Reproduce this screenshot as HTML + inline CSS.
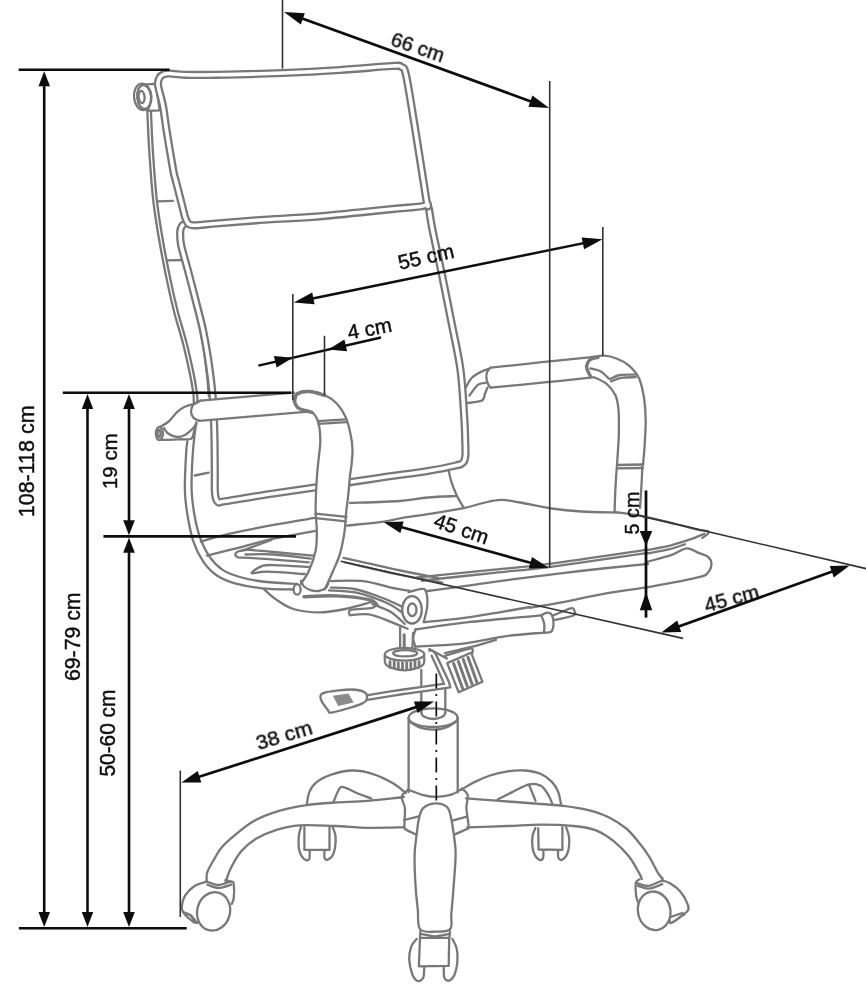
<!DOCTYPE html>
<html><head><meta charset="utf-8"><title>Chair dimensions</title>
<style>
html,body{margin:0;padding:0;background:#fff;}
body{width:866px;height:995px;overflow:hidden;}
svg{display:block;}
</style></head><body>
<svg width="866" height="995" viewBox="0 0 866 995">
<defs><filter id="soft" x="-20" y="-20" width="906" height="1035" filterUnits="userSpaceOnUse"><feGaussianBlur stdDeviation="0.55"/></filter><filter id="soft2" x="-20" y="-20" width="906" height="1035" filterUnits="userSpaceOnUse"><feGaussianBlur stdDeviation="0.4"/></filter></defs>
<rect width="866" height="995" fill="#fff"/>
<g id="chair" filter="url(#soft)" fill="none" stroke="#787878" stroke-width="2.3" stroke-linecap="round" stroke-linejoin="round">
<path d="M149.0,108.0 C149.3,115.0 150.0,134.7 151.0,150.0 C152.0,165.3 153.3,185.0 155.0,200.0 C156.7,215.0 158.7,226.7 161.0,240.0 C163.3,253.3 166.2,268.0 168.7,280.0 C171.2,292.0 173.4,301.7 176.0,312.0 C178.6,322.3 182.0,332.3 184.5,342.0 C187.0,351.7 189.2,361.7 191.0,370.0 C192.8,378.3 194.2,386.7 195.0,392.0 C195.8,397.3 195.5,400.3 195.6,402.0" stroke-width="5.9"/>
<path d="M149.0,108.0 C149.3,115.0 150.0,134.7 151.0,150.0 C152.0,165.3 153.3,185.0 155.0,200.0 C156.7,215.0 158.7,226.7 161.0,240.0 C163.3,253.3 166.2,268.0 168.7,280.0 C171.2,292.0 173.4,301.7 176.0,312.0 C178.6,322.3 182.0,332.3 184.5,342.0 C187.0,351.7 189.2,361.7 191.0,370.0 C192.8,378.3 194.2,386.7 195.0,392.0 C195.8,397.3 195.5,400.3 195.6,402.0" stroke="#fff" stroke-width="1.3"/>
<path d="M157.5,201.3 L173.0,200.8"/>
<path d="M167.9,260.3 L184.3,260.0"/>
<path d="M184.5,261.0 C185.4,265.0 187.9,276.0 190.0,285.0 C192.1,294.0 194.8,305.0 197.0,315.0 C199.2,325.0 201.3,335.0 203.0,345.0 C204.7,355.0 206.0,366.5 207.0,375.0 C208.0,383.5 208.5,392.5 208.8,396.0"/>
<path d="M145.8,84.4 L155.8,83.8 L159.7,110.4 L148.6,110.9Z" fill="#fff"/>
<ellipse cx="142.7" cy="96.9" rx="8.7" ry="13.3" transform="rotate(-5 142.7 96.9)" fill="#fff"/>
<ellipse cx="144.1" cy="97.0" rx="6.9" ry="11.9" transform="rotate(-5 144.1 97.0)"/>
<ellipse cx="141.6" cy="97.0" rx="3.0" ry="6.1" transform="rotate(-5 141.6 97.0)"/>
<path d="M187.0,222.5 C186.2,223.1 183.1,224.4 182.0,226.0 C180.9,227.6 180.3,228.8 180.2,232.0 C180.1,235.2 179.9,239.1 181.2,245.4 C182.5,251.7 185.4,260.9 187.8,270.0 C190.2,279.1 193.0,289.8 195.5,299.8 C198.0,309.8 200.9,320.0 203.0,330.0 C205.1,340.0 206.7,349.2 208.3,360.0 C209.9,370.8 211.5,382.8 212.5,394.5 C213.5,406.2 213.9,417.4 214.3,430.0 C214.7,442.6 214.7,459.5 214.8,470.0 C214.9,480.5 214.5,487.7 215.0,493.0 C215.5,498.3 216.1,500.4 217.8,501.8 C219.5,503.2 216.3,502.6 225.0,501.3 C233.7,500.0 254.2,496.4 270.0,494.0 C285.8,491.6 301.7,489.4 320.0,486.7 C338.3,484.0 362.1,480.3 380.0,477.7 C397.9,475.1 415.1,473.0 427.7,471.0 C440.3,469.0 449.5,467.1 455.4,465.6 C461.3,464.2 461.6,464.1 463.3,462.3 C465.0,460.5 465.1,458.7 465.4,455.0 C465.7,451.3 465.4,445.8 465.2,440.0 C465.0,434.2 465.2,431.7 464.4,420.0 C463.6,408.3 462.6,385.8 460.5,370.0 C458.4,354.2 455.1,340.8 452.0,325.0 C448.9,309.2 445.2,290.8 442.0,275.0 C438.8,259.2 434.7,241.0 432.5,230.0 C430.3,219.0 429.6,212.5 429.0,209.0" stroke-width="8.2" />
<path d="M187.0,222.5 C186.2,223.1 183.1,224.4 182.0,226.0 C180.9,227.6 180.3,228.8 180.2,232.0 C180.1,235.2 179.9,239.1 181.2,245.4 C182.5,251.7 185.4,260.9 187.8,270.0 C190.2,279.1 193.0,289.8 195.5,299.8 C198.0,309.8 200.9,320.0 203.0,330.0 C205.1,340.0 206.7,349.2 208.3,360.0 C209.9,370.8 211.5,382.8 212.5,394.5 C213.5,406.2 213.9,417.4 214.3,430.0 C214.7,442.6 214.7,459.5 214.8,470.0 C214.9,480.5 214.5,487.7 215.0,493.0 C215.5,498.3 216.1,500.4 217.8,501.8 C219.5,503.2 216.3,502.6 225.0,501.3 C233.7,500.0 254.2,496.4 270.0,494.0 C285.8,491.6 301.7,489.4 320.0,486.7 C338.3,484.0 362.1,480.3 380.0,477.7 C397.9,475.1 415.1,473.0 427.7,471.0 C440.3,469.0 449.5,467.1 455.4,465.6 C461.3,464.2 461.6,464.1 463.3,462.3 C465.0,460.5 465.1,458.7 465.4,455.0 C465.7,451.3 465.4,445.8 465.2,440.0 C465.0,434.2 465.2,431.7 464.4,420.0 C463.6,408.3 462.6,385.8 460.5,370.0 C458.4,354.2 455.1,340.8 452.0,325.0 C448.9,309.2 445.2,290.8 442.0,275.0 C438.8,259.2 434.7,241.0 432.5,230.0 C430.3,219.0 429.6,212.5 429.0,209.0" stroke="#fff" stroke-width="3.6"/>
<path d="M158.6,88.0 C157.8,84.1 157.8,84.8 158.0,83.0 C158.2,81.2 158.7,79.0 159.6,77.5 C160.5,76.0 161.8,75.0 163.5,74.3 C165.2,73.6 166.4,73.4 170.0,73.5 C173.6,73.6 177.3,74.6 185.0,74.8 C192.7,75.0 199.7,75.1 216.0,74.8 C232.3,74.5 262.3,73.8 283.0,73.0 C303.7,72.2 321.8,71.2 340.0,70.0 C358.2,68.8 381.8,66.5 392.0,66.0 C402.2,65.5 399.2,65.5 401.5,67.0 C403.8,68.5 403.8,65.4 406.0,75.0 C408.2,84.6 411.1,104.0 414.5,124.7 C417.9,145.4 424.2,186.3 426.3,199.5 C428.4,212.7 428.4,202.6 427.3,203.8 C426.2,205.0 426.2,205.6 420.0,206.5 C413.8,207.4 407.3,207.6 390.0,209.3 C372.7,211.0 337.7,214.8 316.0,216.6 C294.3,218.4 276.7,218.8 260.0,220.0 C243.3,221.2 226.0,222.7 216.0,223.5 C206.0,224.3 204.0,224.7 200.0,225.0 C196.0,225.3 194.0,225.5 192.0,225.2 C190.0,224.9 189.2,224.7 188.0,223.3 C186.8,221.9 186.0,220.1 185.0,217.0 C184.0,213.9 183.6,211.2 182.0,205.0 C180.4,198.8 177.1,185.8 175.6,180.0 C174.1,174.2 174.7,178.3 173.2,170.0 C171.7,161.7 168.2,140.6 166.5,130.0 C164.8,119.4 164.4,113.6 163.1,106.6 C161.8,99.6 159.4,91.9 158.6,88.0Z" stroke-width="8.2" fill="#fff"/>
<path d="M158.6,88.0 C157.8,84.1 157.8,84.8 158.0,83.0 C158.2,81.2 158.7,79.0 159.6,77.5 C160.5,76.0 161.8,75.0 163.5,74.3 C165.2,73.6 166.4,73.4 170.0,73.5 C173.6,73.6 177.3,74.6 185.0,74.8 C192.7,75.0 199.7,75.1 216.0,74.8 C232.3,74.5 262.3,73.8 283.0,73.0 C303.7,72.2 321.8,71.2 340.0,70.0 C358.2,68.8 381.8,66.5 392.0,66.0 C402.2,65.5 399.2,65.5 401.5,67.0 C403.8,68.5 403.8,65.4 406.0,75.0 C408.2,84.6 411.1,104.0 414.5,124.7 C417.9,145.4 424.2,186.3 426.3,199.5 C428.4,212.7 428.4,202.6 427.3,203.8 C426.2,205.0 426.2,205.6 420.0,206.5 C413.8,207.4 407.3,207.6 390.0,209.3 C372.7,211.0 337.7,214.8 316.0,216.6 C294.3,218.4 276.7,218.8 260.0,220.0 C243.3,221.2 226.0,222.7 216.0,223.5 C206.0,224.3 204.0,224.7 200.0,225.0 C196.0,225.3 194.0,225.5 192.0,225.2 C190.0,224.9 189.2,224.7 188.0,223.3 C186.8,221.9 186.0,220.1 185.0,217.0 C184.0,213.9 183.6,211.2 182.0,205.0 C180.4,198.8 177.1,185.8 175.6,180.0 C174.1,174.2 174.7,178.3 173.2,170.0 C171.7,161.7 168.2,140.6 166.5,130.0 C164.8,119.4 164.4,113.6 163.1,106.6 C161.8,99.6 159.4,91.9 158.6,88.0Z" stroke="#fff" stroke-width="3.6"/>
<path d="M187.4,441.1 C187.2,443.0 186.6,444.2 186.2,452.3 C185.7,460.4 184.7,479.4 184.9,489.8 C185.1,500.1 186.0,506.0 187.4,514.7 C188.9,523.4 190.9,534.2 193.6,542.1 C196.3,550.0 199.7,556.5 203.6,562.1 C207.6,567.7 212.1,572.3 217.3,575.8 C222.5,579.3 227.3,581.2 234.8,583.3 C242.3,585.3 252.5,587.2 262.2,588.3 C272.0,589.3 288.2,589.3 293.4,589.5"/>
<path d="M196.1,422.4 C195.6,427.4 193.6,441.1 192.9,452.3 C192.1,463.6 191.4,479.4 191.6,489.8 C191.9,500.1 193.0,506.8 194.4,514.7 C195.8,522.6 197.3,530.1 199.9,537.1 C202.5,544.2 206.1,551.7 209.9,557.1 C213.6,562.5 217.3,566.2 222.3,569.6 C227.3,572.9 233.1,575.0 239.8,577.0 C246.4,579.0 252.7,580.4 262.2,581.5 C271.8,582.7 291.3,583.6 297.1,584.0"/>
<path d="M194.8,475.5 L208.7,472.7"/>
<path d="M200.8,541.6 C205.5,540.3 216.7,536.7 228.8,533.9 C241.0,531.1 259.0,527.6 273.5,524.9 C288.1,522.2 309.0,518.9 316.1,517.7"/>
<path d="M207.0,555.7 C212.9,554.2 231.6,549.5 242.4,546.8 C253.1,544.0 262.4,541.2 271.5,539.1 C280.5,537.0 289.0,535.7 296.4,534.3 C303.8,532.9 312.9,531.4 316.1,530.8"/>
<path d="M313.0,555.7 C306.4,555.1 284.3,552.9 273.5,552.0 C262.8,551.0 254.5,550.0 248.6,549.9 C242.7,549.8 240.4,550.8 238.2,551.5 C236.0,552.3 235.3,553.5 235.3,554.5 C235.3,555.4 236.0,556.8 238.2,557.4 C240.4,557.9 242.0,557.4 248.6,557.8 C255.2,558.2 267.6,559.1 277.7,559.9 C287.7,560.6 303.7,561.9 308.9,562.4"/>
<path d="M242.4,550.7 L271.5,539.9"/>
<path d="M245.5,554.5 C250.2,554.5 262.6,553.8 273.5,554.5 C284.4,555.2 304.7,557.9 310.9,558.6"/>
<path d="M308.9,566.9 C304.0,566.7 287.4,565.5 279.8,565.3 C272.1,565.1 267.8,564.4 263.1,565.7 C258.5,567.0 251.0,572.2 251.7,573.2 C252.4,574.2 258.5,571.6 267.3,571.7 C276.1,571.8 298.5,573.6 304.7,574.0"/>
<path d="M263.9,589.1 C265.9,590.8 271.1,596.1 276.0,599.4 C280.9,602.8 286.1,606.8 293.3,609.0 C300.5,611.1 310.6,612.4 319.3,612.4 C327.9,612.4 336.6,610.7 345.3,609.0 C353.9,607.2 366.9,603.2 371.3,602.0"/>
<path d="M200.4,400.6 C199.3,401.3 195.1,402.8 193.5,404.6 C191.9,406.5 191.0,409.3 191.0,411.6 C191.0,413.8 192.1,416.4 193.5,417.9 C194.9,419.4 198.3,420.3 199.3,420.8 L314.6,411.2 L294.6,392.5 Z" fill="#fff" stroke="none"/>
<path d="M200.4,400.6 C199.3,401.3 195.1,402.8 193.5,404.6 C191.9,406.5 191.0,409.3 191.0,411.6 C191.0,413.8 192.1,416.4 193.5,417.9 C194.9,419.4 198.3,420.3 199.3,420.8"/>
<path d="M200.4,400.6 L294.0,392.6"/>
<path d="M199.3,420.8 L314.6,411.2"/>
<path d="M294.1,400.0 C294.6,398.9 294.6,394.9 297.1,393.5 C299.7,392.0 305.0,391.0 309.6,391.2 C314.2,391.5 320.0,392.9 324.6,395.0 C329.1,397.1 333.5,400.0 337.0,403.7 C340.6,407.5 343.5,412.2 345.8,417.4 C348.0,422.6 349.6,429.5 350.7,434.9 C351.9,440.3 352.4,444.9 352.5,449.9 C352.6,454.8 351.9,460.4 351.5,464.8 C351.1,469.2 350.5,471.0 350.0,476.0 C349.5,481.0 348.8,489.2 348.3,494.7 C347.7,500.3 347.2,502.8 346.5,509.2 C345.8,515.6 345.4,525.9 344.3,533.4 C343.1,540.9 341.7,548.0 339.8,554.3 C337.9,560.7 335.0,566.4 332.8,571.5 C330.6,576.7 328.0,582.5 326.6,585.5 C325.1,588.5 324.5,588.8 324.1,589.5 L300.9,583.8 L300.9,583.8 C302.2,581.7 306.2,577.0 308.6,571.5 C311.1,566.1 314.2,557.8 315.6,550.8 C317.0,543.9 316.8,536.8 316.8,529.9 C316.8,523.0 315.5,518.4 315.6,509.2 C315.6,500.0 316.5,483.4 317.1,474.8 C317.6,466.1 318.3,463.2 318.8,457.3 C319.4,451.5 320.4,445.7 320.3,439.9 C320.2,434.1 319.7,427.0 318.3,422.4 C317.0,417.8 313.1,414.1 312.1,412.4 L299.6,408.7Z" fill="#fff" stroke="none"/>
<path d="M294.1,400.0 C294.6,398.9 294.6,394.9 297.1,393.5 C299.7,392.0 305.0,391.0 309.6,391.2 C314.2,391.5 320.0,392.9 324.6,395.0 C329.1,397.1 333.5,400.0 337.0,403.7 C340.6,407.5 343.5,412.2 345.8,417.4 C348.0,422.6 349.6,429.5 350.7,434.9 C351.9,440.3 352.4,444.9 352.5,449.9 C352.6,454.8 351.9,460.4 351.5,464.8 C351.1,469.2 350.5,471.0 350.0,476.0 C349.5,481.0 348.8,489.2 348.3,494.7 C347.7,500.3 347.2,502.8 346.5,509.2 C345.8,515.6 345.4,525.9 344.3,533.4 C343.1,540.9 341.7,548.0 339.8,554.3 C337.9,560.7 335.0,566.4 332.8,571.5 C330.6,576.7 328.0,582.5 326.6,585.5 C325.1,588.5 324.5,588.8 324.1,589.5"/>
<path d="M294.1,400.5 C294.4,401.2 295.0,403.6 295.9,405.0 C296.8,406.3 296.9,407.5 299.6,408.7 C302.3,410.0 309.0,410.2 312.1,412.4 C315.2,414.7 317.0,417.8 318.3,422.4 C319.7,427.0 320.2,434.1 320.3,439.9 C320.4,445.7 319.4,451.5 318.8,457.3 C318.3,463.2 317.6,466.1 317.1,474.8 C316.5,483.4 315.6,500.0 315.6,509.2 C315.5,518.4 316.8,523.0 316.8,529.9 C316.8,536.8 317.0,543.9 315.6,550.8 C314.2,557.8 311.1,566.1 308.6,571.5 C306.2,577.0 302.2,581.7 300.9,583.8"/>
<path d="M294.6,401.0 C295.1,399.8 294.6,395.6 297.1,394.0 C299.6,392.4 305.0,391.2 309.6,391.5 C314.2,391.7 322.1,394.8 324.6,395.5" stroke-width="3.6"/>
<path d="M294.1,400.5 C294.4,401.2 295.0,403.6 295.9,405.0 C296.8,406.3 296.9,407.5 299.6,408.7 C302.3,410.0 310.0,411.8 312.1,412.4" stroke-width="3.4"/>
<path d="M317.8,421.2 L346.0,419.4"/>
<path d="M318.3,423.9 L346.5,422.2"/>
<path d="M315.6,513.7 L346.5,516.9"/>
<path d="M315.8,518.2 L346.0,521.4"/>
<path d="M300.9,580.7 C301.4,581.7 302.4,584.9 304.0,586.5 C305.7,588.0 308.2,589.3 310.6,590.1 C313.0,590.8 316.0,591.2 318.4,591.0 C320.9,590.7 323.7,589.6 325.4,588.4 C327.0,587.1 327.8,584.3 328.3,583.5"/>
<ellipse cx="297.1" cy="589.5" rx="3.5" ry="5.2" transform="rotate(0 297.1 589.5)" fill="#fff"/>
<path d="M158.9,427.5 C160.4,426.6 165.0,424.6 168.1,422.0 C171.2,419.3 174.4,414.4 177.3,411.8 C180.2,409.2 182.5,407.8 185.4,406.5 C188.3,405.1 192.2,404.6 194.7,403.7 C197.1,402.8 199.3,401.3 200.2,400.8"/>
<path d="M159.4,439.8 C162.8,439.8 174.3,439.5 179.6,439.3 C184.9,439.1 188.8,440.0 191.2,438.7 C193.6,437.3 193.2,433.7 194.1,431.2 C194.9,428.7 196.0,424.9 196.4,423.7"/>
<path d="M164.1,428.0 C164.7,428.9 165.9,432.0 168.1,433.5 C170.3,435.0 174.4,436.8 177.3,437.0 C180.2,437.2 182.7,436.2 185.4,434.7 C188.1,433.1 191.7,429.6 193.5,427.7 C195.3,425.9 195.9,424.4 196.4,423.7"/>
<ellipse cx="159.4" cy="433.5" rx="3.5" ry="6.5" transform="rotate(0 159.4 433.5)" fill="#fff"/>
<ellipse cx="159.1" cy="433.5" rx="1.5" ry="3.5" transform="rotate(0 159.1 433.5)"/>
<path d="M465.7,387.7 C466.7,386.0 469.2,380.4 471.9,377.7 C474.6,375.0 479.0,372.9 481.9,371.4 C484.7,370.0 487.7,369.4 488.9,368.9"/>
<path d="M466.9,403.1 C469.4,402.7 478.9,402.2 481.9,400.6 C484.9,399.1 484.0,396.0 484.9,393.9 C485.8,391.7 486.9,388.7 487.4,387.7"/>
<path d="M469.4,395.6 C470.9,393.8 475.3,386.8 478.1,384.7 C481.0,382.5 485.0,383.0 486.4,382.7"/>
<path d="M489.4,368.2 L591.6,357.7 L594.1,377.2 L489.9,387.7Z" fill="#fff" stroke="none"/>
<path d="M490.6,367.7 C499.1,366.8 524.9,364.0 541.7,362.2 C558.6,360.5 583.3,358.1 591.6,357.2"/>
<path d="M490.6,387.7 C499.1,386.8 524.7,384.4 541.7,382.7 C558.8,381.0 584.3,378.3 592.8,377.4"/>
<path d="M490.6,367.7 C490.1,368.3 488.1,369.8 487.4,371.4 C486.7,373.1 486.2,375.5 486.4,377.7 C486.5,379.9 487.7,383.0 488.4,384.7 C489.1,386.3 490.2,387.2 490.6,387.7"/>
<path d="M591.6,357.2 C593.7,357.0 599.9,355.5 604.1,355.7 C608.2,355.9 612.4,356.8 616.5,358.5 C620.7,360.1 625.3,362.4 629.0,365.7 C632.7,369.0 636.5,372.9 639.0,378.2 C641.5,383.5 642.8,390.6 644.0,397.6 C645.1,404.6 645.6,411.8 645.7,420.1 C645.8,428.4 644.9,440.0 644.5,447.5 C644.0,455.0 643.2,462.0 643.0,465.0"/>
<path d="M594.1,377.2 C596.2,378.3 603.0,380.9 606.6,383.9 C610.1,386.9 613.3,390.8 615.3,395.1 C617.3,399.5 618.0,403.4 618.5,410.1 C619.1,416.7 619.0,425.9 618.8,435.0 C618.5,444.2 617.3,460.0 617.0,465.0"/>
<path d="M598.1,357.3 C597.0,357.6 592.9,358.1 591.2,359.1 C589.4,360.0 588.2,361.6 587.5,363.1 C586.8,364.6 586.3,366.1 586.8,368.3 C587.3,370.4 589.7,374.7 590.3,376.0" stroke-width="3.4"/>
<path d="M590.3,368.4 C591.9,368.9 597.4,369.5 600.4,371.2 C603.5,372.8 607.2,377.1 608.5,378.3"/>
<path d="M609.9,379.0 C611.6,378.4 615.8,375.7 620.0,375.0 C624.3,374.3 632.7,374.7 635.3,374.6"/>
<path d="M611.0,381.3 C612.7,380.7 617.1,378.5 621.2,377.8 C625.3,377.1 633.3,377.3 635.8,377.2"/>
<path d="M617.0,465.0 L643.0,464.5"/>
<path d="M617.3,468.4 L643.0,468.0"/>
<path d="M616.9,466.2 C616.6,469.7 615.9,479.4 615.5,487.0 C615.1,494.6 614.7,507.8 614.6,512.0"/>
<path d="M642.3,466.2 C642.2,469.7 641.8,480.1 641.4,487.0 C641.0,493.9 640.2,504.3 640.0,507.8"/>
<path d="M448.5,469.8 C449.0,471.8 449.9,477.3 451.3,481.6 C452.7,485.9 454.7,491.0 456.8,495.4 C458.9,499.8 462.6,505.8 463.7,507.9"/>
<path d="M350.0,502.9 C358.3,502.6 387.1,501.9 400.0,501.0 C412.9,500.1 418.5,498.3 427.7,497.5 C436.9,496.7 450.8,496.3 455.4,496.1"/>
<path d="M346.9,525.6 C353.0,524.9 374.8,522.8 383.7,521.6 C392.6,520.4 392.7,519.5 400.0,518.3 C407.3,517.0 417.1,515.8 427.7,514.1 C438.3,512.4 454.5,510.1 463.7,508.2 C472.9,506.3 476.9,504.4 483.1,503.0 C489.4,501.6 495.1,500.0 501.2,499.9 C507.3,499.8 511.6,501.1 520.0,502.5 C528.4,503.9 541.4,507.0 551.7,508.5 C562.0,510.0 570.6,510.8 581.6,511.5 C592.6,512.2 611.8,512.3 617.8,512.5"/>
<path d="M617.8,512.4 C621.3,512.9 629.0,513.5 638.6,515.4 C648.2,517.4 665.6,521.6 675.6,524.0 C685.6,526.4 693.5,528.6 698.7,529.8 C704.0,530.9 705.5,530.3 707.1,530.9 C708.6,531.6 708.8,532.5 708.0,533.7 C707.2,534.9 703.2,537.2 702.2,537.9"/>
<path d="M417.0,577.5 C419.5,577.3 419.1,577.1 432.0,575.8 C444.9,574.5 474.8,571.6 494.3,569.6 C513.9,567.6 523.6,567.2 549.2,563.8 C574.8,560.5 631.5,552.0 648.0,549.6"/>
<path d="M422.0,580.8 C423.7,580.6 419.9,580.9 432.0,579.5 C444.1,578.2 474.8,574.9 494.3,572.8 C513.9,570.7 523.6,570.4 549.2,567.1 C574.8,563.7 631.5,555.2 648.0,552.9"/>
<path d="M647.9,549.9 C651.7,549.1 664.0,547.0 671.0,545.3 C677.9,543.6 683.9,541.6 689.5,539.7 C695.1,537.8 702.0,534.7 704.5,533.7"/>
<path d="M647.9,553.4 C651.3,552.7 662.5,550.9 668.7,549.4 C674.8,547.9 682.2,545.2 684.9,544.3"/>
<path d="M343.5,557.8 C353.0,559.9 384.7,567.2 400.5,570.5 C416.2,573.9 431.7,576.7 438.0,577.9"/>
<path d="M345.2,562.5 C354.4,564.5 384.3,571.5 400.5,574.9 C416.7,578.2 435.4,581.3 442.3,582.6"/>
<path d="M647.4,561.7 C651.3,560.6 664.4,557.4 671.0,555.2 C677.5,553.0 682.1,548.7 686.7,548.3 C691.3,547.9 695.2,551.5 698.7,552.9 C702.3,554.3 705.9,555.0 708.0,556.8 C710.1,558.6 711.4,561.1 711.4,563.8 C711.4,566.4 710.1,570.3 708.0,572.5 C705.9,574.8 708.0,574.9 698.7,577.2 C689.5,579.5 667.9,583.7 652.5,586.4 C637.1,589.1 621.7,590.7 606.2,593.4 C590.8,596.1 572.7,600.2 560.0,602.6 C547.3,605.0 535.0,607.0 529.9,607.9"/>
<path d="M329.9,581.1 C335.5,581.1 353.0,580.0 363.2,581.1 C373.3,582.2 383.2,586.0 390.9,587.6 C398.6,589.2 406.3,590.2 409.4,590.7"/>
<path d="M329.0,590.3 C333.1,590.6 346.1,590.8 353.9,592.2 C361.8,593.6 370.0,596.5 376.1,598.7 C382.3,600.8 386.3,602.7 390.9,605.1 C395.5,607.6 401.4,612.1 403.5,613.4"/>
<path d="M330.8,587.6 C334.7,587.8 346.4,587.7 353.9,589.0 C361.5,590.4 369.6,593.3 376.1,595.5 C382.6,597.7 388.3,600.4 392.8,602.3 C397.2,604.3 401.2,606.2 402.9,607.0"/>
<path d="M304.0,596.8 C309.3,596.6 324.7,595.4 335.5,595.9 C346.2,596.3 361.8,598.1 368.7,599.6 C375.7,601.1 375.7,603.9 377.0,604.8" stroke-width="3.4"/>
<path d="M349.3,614.4 C349.6,613.6 347.3,610.8 351.2,609.7 C355.0,608.7 368.3,609.0 372.4,607.9 C376.6,606.8 375.5,604.0 376.1,603.3"/>
<path d="M349.9,615.3 C353.0,615.1 361.9,613.3 368.7,614.4 C375.6,615.4 384.4,619.4 390.9,621.8 C397.4,624.2 404.8,627.6 407.5,628.8"/>
<path d="M372.4,604.0 C375.5,605.4 385.5,608.8 390.9,612.1 C396.3,615.5 402.5,622.0 404.8,624.0"/>
<path d="M425.9,591.2 C428.0,590.9 431.8,590.5 438.5,589.6 C445.2,588.7 453.8,587.6 466.0,585.9 C478.2,584.2 493.0,581.9 512.0,579.4 C531.0,576.9 557.3,573.6 580.0,571.0 C602.7,568.4 636.7,565.0 648.0,563.8"/>
<path d="M408.6,592.2 C410.8,591.6 418.5,589.0 421.4,588.8 C424.3,588.7 424.9,588.6 425.9,591.4 C426.9,594.2 427.7,600.4 427.3,605.5 C426.9,610.7 424.4,619.4 423.8,622.2"/>
<ellipse cx="412.0" cy="609.8" rx="9.8" ry="13.7" transform="rotate(0 412.0 609.8)" fill="#fff"/>
<ellipse cx="412.2" cy="609.8" rx="4.3" ry="6.3" transform="rotate(0 412.2 609.8)"/>
<path d="M423.8,622.2 C431.2,621.4 455.4,619.0 468.5,617.3 C481.6,615.6 491.9,613.5 502.2,611.8 C512.5,610.1 525.4,607.8 530.0,607.0"/>
<path d="M415.5,629.5 C424.4,628.3 447.6,624.6 468.5,622.2 C489.5,619.9 529.1,616.5 541.2,615.3"/>
<path d="M415.5,646.7 C421.1,646.4 440.1,645.4 448.9,644.8 C457.7,644.1 458.7,644.3 468.5,642.8 C478.3,641.3 495.2,637.6 507.8,635.9 C520.4,634.2 538.0,633.2 544.1,632.6"/>
<path d="M415.5,629.5 C415.1,630.9 413.2,635.0 413.2,637.9 C413.2,640.8 415.1,645.3 415.5,646.7"/>
<path d="M541.3,615.3 C542.3,614.8 545.7,612.6 547.5,612.7 C549.4,612.7 551.2,613.5 552.2,615.5 C553.1,617.5 553.6,622.0 553.5,624.7 C553.3,627.4 552.8,630.4 551.2,631.7 C549.7,633.0 545.2,632.5 544.0,632.6"/>
<path d="M541.3,615.3 C541.7,616.7 543.8,620.9 544.2,623.8 C544.7,626.7 544.1,631.2 544.0,632.6"/>
<path d="M552.3,615.8 C555.4,614.6 567.0,609.3 570.6,608.4 C574.3,607.6 573.9,609.7 574.3,610.8 C574.8,612.0 576.9,613.9 573.4,615.5 C569.9,617.0 556.8,619.5 553.5,620.3"/>
<path d="M445.0,653.0 C449.5,652.0 463.9,648.9 472.4,646.7 C481.0,644.6 492.1,641.0 496.0,639.9"/>
<path d="M429.3,649.1 L446.9,658.5"/>
<path d="M421.3,670.0 L421.3,712.5"/>
<path d="M445.3,689.0 L445.3,712.5"/>
<path d="M421.3,712.5 A12,6.5 0 0 0 445.3,712.5"/>
<path d="M400.1,627.3 L400.1,651.3"/>
<path d="M413.1,632.8 L412.3,649.9"/>
<path d="M404.2,634.7 L404.2,649.5" stroke-width="3"/>
<path d="M384.8,654.7 C385.0,656.3 384.1,661.8 385.7,664.1 C387.2,666.4 391.0,667.6 394.2,668.7 C397.3,669.7 401.1,670.3 404.6,670.3 C408.0,670.3 411.8,669.7 415.0,668.7 C418.1,667.6 422.0,666.4 423.5,664.1 C425.0,661.8 424.0,656.3 424.1,654.7"/>
<ellipse cx="404.6" cy="654.3" rx="19.7" ry="6.4" transform="rotate(0 404.6 654.3)" fill="#fff"/>
<ellipse cx="405.2" cy="653.3" rx="12.1" ry="3.1" transform="rotate(0 405.2 653.3)"/>
<path d="M390.0,661.6 L390.0,667.4" stroke-width="2.8"/>
<path d="M394.2,661.6 L394.2,667.4" stroke-width="2.8"/>
<path d="M398.3,662.9 L398.3,669.1" stroke-width="2.8"/>
<path d="M402.5,662.9 L402.5,669.1" stroke-width="2.8"/>
<path d="M406.7,662.9 L406.7,669.1" stroke-width="2.8"/>
<path d="M410.8,662.9 L410.8,669.1" stroke-width="2.8"/>
<path d="M415.0,661.6 L415.0,667.4" stroke-width="2.8"/>
<path d="M419.1,661.6 L419.1,667.4" stroke-width="2.8"/>
<path d="M366.5,695.3 L443.0,683.8 L449.7,684.9 L445.1,688.2 L367.2,699.9Z" fill="#fff" stroke="none"/>
<path d="M366.5,695.3 C372.7,694.3 390.8,691.4 403.5,689.5 C416.3,687.6 436.4,684.8 443.0,683.8"/>
<path d="M367.2,699.9 C373.2,698.9 390.5,696.0 403.5,694.0 C416.5,692.1 437.4,689.7 445.1,688.2 C452.8,686.7 450.0,688.0 449.7,684.9 C449.3,681.7 445.5,674.7 443.0,669.3 C440.5,663.9 437.0,655.8 434.7,652.7 C432.4,649.5 430.2,650.8 429.3,650.4"/>
<path d="M444.1,684.1 C443.0,681.6 439.9,674.0 437.8,669.3 C435.8,664.6 432.6,658.0 431.6,655.8"/>
<path d="M320.4,697.4 C320.2,694.4 321.4,693.5 326.6,692.2 C331.8,690.8 345.3,689.5 351.6,689.5 C357.9,689.5 361.9,690.8 364.5,692.2 C367.0,693.5 367.4,695.5 367.0,697.4 C366.5,699.3 367.6,701.1 362.0,703.6 C356.3,706.1 338.6,711.3 332.9,712.3 C327.1,713.4 329.7,712.3 327.7,709.8 C325.6,707.3 320.6,700.3 320.4,697.4Z" fill="#fff"/>
<path d="M332.9,695.7 L348.5,693.6 L353.6,702.6 L338.1,706.1Z" fill="#8a8a8a" stroke="none"/>
<path d="M447.2,663.1 L471.1,652.7 L482.5,681.8 L458.6,692.2Z" fill="#fff"/>
<path d="M453.6,663.5 L462.6,688.4" stroke-width="3"/>
<path d="M458.4,661.4 L467.3,686.3" stroke-width="3"/>
<path d="M463.2,659.3 L472.1,684.3" stroke-width="3"/>
<path d="M468.0,657.2 L476.9,682.2" stroke-width="3"/>
<path d="M445.1,655.8 C449.3,654.6 465.5,649.0 470.0,648.5 C474.6,648.0 472.1,652.1 472.5,652.9"/>
<ellipse cx="433.1" cy="717.7" rx="24.5" ry="9.3" transform="rotate(0 433.1 717.7)"/>
<path d="M408.8,721.3 C410.7,722.3 416.1,726.2 420.2,727.6 C424.2,729.0 428.8,729.7 433.1,729.7 C437.3,729.7 441.5,729.1 445.5,727.6 C449.6,726.1 455.4,722.0 457.3,720.8"/>
<path d="M408.6,717.7 L408.6,792.2"/>
<path d="M457.7,717.7 L457.7,792.6"/>
<path d="M306.8,804.6 C307.3,802.5 307.7,795.7 309.4,791.9 C311.0,788.2 313.1,784.8 316.9,781.9 C320.7,778.9 326.2,776.2 332.1,774.3 C338.0,772.4 345.5,770.6 352.3,770.5 C359.0,770.4 365.7,771.7 372.4,773.8 C379.2,775.9 387.1,779.9 392.6,783.1 C398.2,786.3 403.6,791.3 405.8,793.0"/>
<path d="M333.3,802.5 C334.0,801.0 335.6,795.8 337.1,793.2 C338.6,790.6 338.8,786.9 342.2,786.9 C345.5,786.9 352.5,791.3 357.3,793.2 C362.1,795.1 368.9,797.6 371.2,798.5"/>
<path d="M461.0,789.9 C463.3,788.6 470.1,784.2 474.9,781.9 C479.7,779.5 484.6,777.3 490.0,775.5 C495.5,773.8 501.8,772.1 507.7,771.3 C513.6,770.4 519.9,770.1 525.4,770.5 C530.8,770.9 536.1,771.9 540.5,773.8 C544.9,775.7 548.9,778.8 551.9,781.9 C554.8,784.9 556.6,788.1 558.2,791.9 C559.7,795.8 560.7,802.9 561.2,805.1"/>
<path d="M497.6,799.5 C500.1,798.3 507.5,794.5 512.7,791.9 C518.0,789.4 524.5,785.4 529.1,784.4 C533.8,783.3 537.3,784.0 540.5,785.6 C543.7,787.3 546.1,791.3 548.1,794.5 C550.1,797.6 551.9,802.9 552.6,804.6"/>
<path d="M529.1,784.9 L535.5,800.8"/>
<path d="M301.2,826.3 C300.8,827.8 299.3,831.7 298.9,835.2 C298.5,838.7 298.4,844.0 298.7,847.3 C299.1,850.7 300.0,853.3 301.2,855.4 C302.4,857.5 304.5,859.6 305.9,860.1 C307.2,860.6 308.6,860.2 309.3,858.7 C309.9,857.1 309.6,852.3 309.7,851.0"/>
<path d="M304.4,827.1 L304.4,849.9 L329.5,849.9 L329.5,827.1"/>
<path d="M332.7,827.1 C333.2,828.6 335.1,832.7 335.5,836.0 C335.9,839.4 335.6,844.1 335.1,847.3 C334.6,850.6 333.9,853.4 332.7,855.4 C331.5,857.5 329.2,859.2 327.8,859.6 C326.5,860.1 325.2,859.4 324.6,858.0 C324.0,856.6 324.5,852.1 324.5,851.0"/>
<path d="M535.4,827.9 C534.9,829.3 533.0,832.8 532.5,836.0 C532.1,839.3 532.1,844.1 532.5,847.3 C532.9,850.6 533.8,853.3 535.0,855.4 C536.1,857.5 538.1,859.4 539.4,859.9 C540.7,860.3 542.4,859.7 543.0,858.2 C543.7,856.8 543.4,852.2 543.4,851.0"/>
<path d="M538.2,828.3 L538.6,849.5 L562.4,849.8 L562.4,827.1"/>
<path d="M566.1,827.1 C566.6,828.6 568.4,832.7 568.9,836.0 C569.4,839.4 569.3,844.1 568.9,847.3 C568.5,850.6 567.6,853.3 566.5,855.4 C565.3,857.5 563.4,859.5 562.0,859.9 C560.7,860.3 559.1,859.3 558.4,857.8 C557.7,856.4 558.1,852.1 558.0,851.0"/>
<path d="M404.0,797.0 C397.9,797.6 379.0,799.8 367.4,800.8 C355.8,801.7 344.7,801.8 334.6,802.5 C324.5,803.3 316.1,803.7 306.8,805.1 C297.6,806.5 287.9,808.2 279.1,810.9 C270.3,813.5 261.4,816.8 253.9,821.0 C246.3,825.2 239.0,831.7 233.7,836.1 C228.3,840.5 224.5,844.1 221.6,847.5 C218.6,850.9 218.1,852.5 215.7,856.5 C213.4,860.6 208.9,867.8 207.4,871.9 C205.9,876.1 206.8,879.9 206.7,881.5 L225.6,882.3 L225.6,882.3 C226.5,879.8 228.5,872.8 231.1,867.6 C233.7,862.5 237.0,856.1 241.2,851.2 C245.4,846.4 250.5,842.2 256.4,838.6 C262.3,835.1 269.4,832.0 276.6,829.8 C283.7,827.6 289.6,825.9 299.3,825.3 C308.9,824.6 323.2,825.6 334.6,826.0 C346.0,826.4 355.8,827.6 367.4,827.8 C379.0,828.0 397.9,827.4 404.0,827.3 Z" fill="#fff" stroke="none"/>
<path d="M404.0,797.0 C397.9,797.6 379.0,799.8 367.4,800.8 C355.8,801.7 344.7,801.8 334.6,802.5 C324.5,803.3 316.1,803.7 306.8,805.1 C297.6,806.5 287.9,808.2 279.1,810.9 C270.3,813.5 261.4,816.8 253.9,821.0 C246.3,825.2 239.0,831.7 233.7,836.1 C228.3,840.5 224.5,844.1 221.6,847.5 C218.6,850.9 218.1,852.5 215.7,856.5 C213.4,860.6 208.9,867.8 207.4,871.9 C205.9,876.1 206.8,879.9 206.7,881.5"/>
<path d="M404.0,827.3 C397.9,827.4 379.0,828.0 367.4,827.8 C355.8,827.6 346.0,826.4 334.6,826.0 C323.2,825.6 308.9,824.6 299.3,825.3 C289.6,825.9 283.7,827.6 276.6,829.8 C269.4,832.0 262.3,835.1 256.4,838.6 C250.5,842.2 245.4,846.4 241.2,851.2 C237.0,856.1 233.7,862.5 231.1,867.6 C228.5,872.8 226.5,879.8 225.6,882.3"/>
<path d="M466.1,798.3 C473.0,798.8 491.5,800.3 507.7,801.5 C523.9,802.8 549.8,804.4 563.2,805.8 C576.7,807.3 580.9,808.2 588.4,810.1 C596.0,812.0 602.3,814.1 608.6,817.2 C614.9,820.2 621.3,824.3 626.3,828.5 C631.3,832.7 635.1,837.8 638.9,842.4 C642.7,847.0 645.9,851.2 649.0,856.3 C652.2,861.3 655.6,869.0 657.8,872.7 C660.1,876.4 661.6,877.5 662.4,878.5 L641.9,879.0 L641.9,879.0 C641.4,877.9 641.1,876.5 638.9,872.7 C636.7,868.9 633.0,861.5 628.8,856.3 C624.6,851.0 619.1,845.5 613.7,841.1 C608.2,836.8 602.7,832.8 596.0,830.3 C589.3,827.8 582.6,826.9 573.3,826.0 C564.1,825.1 551.4,824.7 540.5,824.7 C529.6,824.7 519.9,825.6 507.7,826.0 C495.5,826.4 474.1,827.1 467.3,827.3 Z" fill="#fff" stroke="none"/>
<path d="M466.1,798.3 C473.0,798.8 491.5,800.3 507.7,801.5 C523.9,802.8 549.8,804.4 563.2,805.8 C576.7,807.3 580.9,808.2 588.4,810.1 C596.0,812.0 602.3,814.1 608.6,817.2 C614.9,820.2 621.3,824.3 626.3,828.5 C631.3,832.7 635.1,837.8 638.9,842.4 C642.7,847.0 645.9,851.2 649.0,856.3 C652.2,861.3 655.6,869.0 657.8,872.7 C660.1,876.4 661.6,877.5 662.4,878.5"/>
<path d="M467.3,827.3 C474.1,827.1 495.5,826.4 507.7,826.0 C519.9,825.6 529.6,824.7 540.5,824.7 C551.4,824.7 564.1,825.1 573.3,826.0 C582.6,826.9 589.3,827.8 596.0,830.3 C602.7,832.8 608.2,836.8 613.7,841.1 C619.1,845.5 624.6,851.0 628.8,856.3 C633.0,861.5 636.7,868.9 638.9,872.7 C641.1,876.5 641.4,877.9 641.9,879.0"/>
<path d="M408.1,789.7 C410.6,790.6 418.5,793.9 423.2,795.1 C427.9,796.3 431.5,796.9 436.2,796.9 C440.9,796.8 447.0,796.1 451.3,794.7 C455.6,793.3 460.3,789.7 462.1,788.6"/>
<path d="M408.1,789.7 C407.0,790.9 402.2,793.8 401.6,796.9 C401.1,799.9 404.4,803.2 404.9,808.1 C405.3,813.0 404.2,822.9 404.4,826.5 C404.7,830.1 404.2,828.3 406.4,829.7 C408.5,831.1 415.4,834.2 417.2,835.1"/>
<path d="M462.1,788.6 C463.1,789.7 467.0,791.9 467.7,795.1 C468.5,798.4 466.3,802.9 466.4,808.1 C466.6,813.3 468.6,822.9 468.6,826.5 C468.6,830.0 468.8,827.9 466.4,829.3 C464.1,830.6 456.5,833.6 454.6,834.5"/>
<path d="M404.2,820.0 L418.9,816.3"/>
<path d="M452.4,820.6 L466.9,816.7"/>
<path d="M418.9,818.9 C420.0,814.6 420.5,810.7 423.2,808.1 C425.9,805.5 431.1,803.5 435.1,803.3 C439.1,803.2 444.3,804.4 447.0,807.0 C449.7,809.6 450.1,813.3 451.3,818.9 C452.6,824.5 453.8,834.4 454.6,840.5 C455.3,846.6 455.8,847.7 455.6,855.6 C455.5,863.6 454.2,878.3 453.5,888.1 C452.8,897.8 451.9,907.2 451.3,914.0 C450.8,920.8 452.9,926.2 450.2,929.1 C447.5,932.1 440.2,931.7 435.1,931.7 C430.1,931.7 422.9,932.8 420.0,929.1 C417.1,925.5 418.5,916.5 417.8,909.7 C417.1,902.8 416.2,897.1 415.7,888.1 C415.1,879.1 414.4,864.6 414.6,855.6 C414.8,846.6 416.0,840.2 416.7,834.0 C417.5,827.9 417.8,823.2 418.9,818.9Z" fill="#fff"/>
<path d="M420.6,933.9 C423.0,934.3 430.2,936.3 435.1,936.3 C440.0,936.3 447.4,934.3 449.8,933.9"/>
<path d="M420.0,937.8 L449.2,937.8 L448.7,965.9 L418.9,966.3Z"/>
<path d="M416.7,938.9 C415.8,940.1 412.6,943.0 411.3,946.4 C410.1,949.8 409.0,954.7 409.2,959.4 C409.4,964.1 411.0,970.9 412.4,974.5 C413.9,978.1 416.0,980.5 417.8,981.0 C419.6,981.5 422.1,980.1 423.2,977.8 C424.3,975.4 424.1,968.7 424.3,966.9"/>
<path d="M452.4,938.9 C453.1,940.5 455.9,944.8 456.7,948.6 C457.6,952.4 457.7,957.2 457.4,961.5 C457.0,965.9 455.9,971.3 454.6,974.5 C453.2,977.7 450.9,980.0 449.2,980.6 C447.5,981.1 445.3,980.0 444.4,977.8 C443.5,975.5 443.9,968.7 443.8,966.9"/>
<path d="M420.4,931.3 L420.0,937.8"/>
<path d="M450.0,931.3 L449.4,937.8"/>
<path d="M206.7,881.6 C204.8,882.3 198.5,883.4 194.9,885.7 C191.4,888.0 187.4,892.0 185.2,895.4 C183.0,898.9 182.1,903.7 181.8,906.5 C181.4,909.3 182.1,910.2 183.2,912.1 C184.2,913.9 186.2,915.9 188.0,917.6 C189.9,919.3 192.3,921.7 194.2,922.4 C196.2,923.2 198.9,922.1 199.8,922.0"/>
<path d="M206.7,881.6 C208.7,882.1 214.5,885.0 218.5,885.0 C222.5,885.0 228.4,881.7 231.0,881.6 C233.5,881.5 233.3,881.6 233.7,884.3 C234.2,887.1 234.1,894.9 233.7,898.2 C233.4,901.5 232.0,903.0 231.7,904.0"/>
<path d="M207.4,884.6 C209.3,885.2 214.5,887.9 218.5,887.9 C222.5,887.9 229.1,885.2 231.2,884.6"/>
<path d="M183.2,912.1 C184.4,912.6 188.5,913.7 190.8,915.5 C193.1,917.4 196.0,921.9 197.0,923.1"/>
<path d="M190.8,915.5 L194.7,921.8"/>
<ellipse cx="213.6" cy="911.4" rx="16.4" ry="19.4" transform="rotate(14 213.6 911.4)" fill="#fff"/>
<path d="M225.4,880.2 L231.0,881.6"/>
<path d="M639.6,879.3 C639.0,879.9 636.5,879.9 635.9,882.8 C635.4,885.8 635.9,893.6 636.4,897.1 C636.9,900.5 638.4,902.5 638.8,903.6"/>
<path d="M635.9,882.8 C638.0,883.3 644.1,886.1 648.5,885.8 C652.9,885.4 658.5,881.2 662.3,880.9 C666.1,880.6 668.1,882.3 671.2,884.1 C674.3,886.0 678.2,889.0 680.9,892.2 C683.6,895.5 686.2,900.6 687.4,903.6 C688.6,906.5 689.3,907.9 688.2,910.0 C687.1,912.2 683.7,914.3 680.9,916.5 C678.1,918.7 673.1,922.3 671.2,923.0 C669.3,923.7 669.8,921.0 669.6,920.6"/>
<path d="M638.0,885.8 C639.8,886.2 644.5,888.9 648.5,888.7 C652.6,888.4 660.0,884.9 662.3,884.1"/>
<path d="M671.2,916.8 C673.0,916.2 679.6,913.6 681.7,913.3 C683.9,912.9 683.7,914.6 684.1,914.9"/>
<ellipse cx="654.2" cy="910.8" rx="16.2" ry="19.4" transform="rotate(-12 654.2 910.8)" fill="#fff"/>
<path d="M662.3,878.5 L662.3,880.9"/>
</g>
<g id="dims" filter="url(#soft2)" stroke="#0a0a0a" fill="#0a0a0a" stroke-linecap="butt">
<line x1="18.7" y1="69.8" x2="169.6" y2="69.8" stroke-width="2.6"/>
<line x1="62.8" y1="392.7" x2="291" y2="392.7" stroke-width="2.6"/>
<line x1="103.5" y1="536.4" x2="296" y2="536.4" stroke-width="2.6"/>
<line x1="18.9" y1="928.2" x2="186.7" y2="928.2" stroke-width="2.6"/>
<g stroke-width="0">
<line x1="44.2" y1="84.2" x2="44.2" y2="914.0" stroke-width="2.6" stroke="#0a0a0a"/><polygon points="44.2,71.2 50.0,86.2 38.5,86.2"/><polygon points="44.2,927.0 38.5,912.0 50.0,912.0"/>
<line x1="87.5" y1="407.0" x2="87.5" y2="914.0" stroke-width="2.6" stroke="#0a0a0a"/><polygon points="87.5,394.0 93.2,409.0 81.8,409.0"/><polygon points="87.5,927.0 81.8,912.0 93.2,912.0"/>
<line x1="129.0" y1="407.0" x2="129.0" y2="522.2" stroke-width="2.6" stroke="#0a0a0a"/><polygon points="129.0,394.0 134.8,409.0 123.2,409.0"/><polygon points="129.0,535.2 123.2,520.2 134.8,520.2"/>
<line x1="129.0" y1="550.8" x2="129.0" y2="914.0" stroke-width="2.6" stroke="#0a0a0a"/><polygon points="129.0,537.8 134.8,552.8 123.2,552.8"/><polygon points="129.0,927.0 123.2,912.0 134.8,912.0"/>
<line x1="300.9" y1="18.1" x2="532.3" y2="101.9" stroke-width="2.7" stroke="#0a0a0a"/><polygon points="284.0,12.0 304.8,13.2 300.8,24.4"/><polygon points="549.2,108.0 528.4,106.8 532.4,95.6"/>
<line x1="311.4" y1="298.8" x2="584.9" y2="242.9" stroke-width="2.5" stroke="#0a0a0a"/><polygon points="293.8,302.4 312.2,292.5 314.6,304.3"/><polygon points="602.5,239.3 584.1,249.2 581.7,237.4"/>
<line x1="400.1" y1="526.8" x2="532.3" y2="563.3" stroke-width="2.7" stroke="#0a0a0a"/><polygon points="383.7,522.3 403.6,521.6 400.4,533.1"/><polygon points="548.7,567.8 528.8,568.5 532.0,557.0"/>
<line x1="677.3" y1="626.9" x2="833.7" y2="571.1" stroke-width="2.7" stroke="#0a0a0a"/><polygon points="661.3,632.6 677.2,620.6 681.2,631.9"/><polygon points="849.7,565.4 833.8,577.4 829.8,566.1"/>
<line x1="197.6" y1="777.3" x2="417.7" y2="706.6" stroke-width="2.7" stroke="#0a0a0a"/><polygon points="181.4,782.5 197.7,771.0 201.3,782.4"/><polygon points="433.9,701.4 417.6,712.9 414.0,701.5"/>
<line x1="258.4" y1="365.7" x2="381" y2="337.5" stroke-width="2.4" stroke="#0a0a0a"/>
<polygon points="292.8,357.7 276.6,367.6 273.9,355.9"/>
<polygon points="328.2,349.5 344.4,339.6 347.1,351.3"/>
<line x1="646" y1="490.5" x2="646" y2="617.6" stroke-width="2.7" stroke="#0a0a0a"/>
<polygon points="646.0,546.0 639.8,531.0 652.2,531.0"/>
<polygon points="646.0,592.2 652.2,610.2 639.8,610.2"/>
</g>
<g stroke-width="1.6" stroke="#333">
<line x1="282.5" y1="0" x2="282.5" y2="68.6"/>
<line x1="549.7" y1="81" x2="549.7" y2="567.8"/>
<line x1="602.8" y1="227" x2="602.8" y2="355.7"/>
<line x1="292.8" y1="294" x2="292.8" y2="400"/>
<line x1="324.5" y1="335.8" x2="324.5" y2="395"/>
<line x1="180.3" y1="770.5" x2="180.3" y2="917"/>
<line x1="340.7" y1="561.3" x2="683" y2="638.4"/>
<line x1="638.6" y1="515.4" x2="866" y2="568.6"/>
<line x1="436.3" y1="673.6" x2="436.3" y2="802" stroke-dasharray="15 5.5 2 5.5" stroke-width="1.7" stroke="#111"/>
</g>
</g>
<g id="labels" filter="url(#soft2)" font-family="'Liberation Sans', sans-serif" font-size="20" fill="#111" stroke="#111" stroke-width="0.45">
<text font-size="22.5" transform="translate(33.6 517.2) rotate(-90)" textLength="111.8" lengthAdjust="spacingAndGlyphs">108-118 cm</text>
<text font-size="21" transform="translate(116.6 489) rotate(-90)" textLength="55.6" lengthAdjust="spacingAndGlyphs">19 cm</text>
<text font-size="22.5" transform="translate(79.8 681) rotate(-90)" textLength="88.5" lengthAdjust="spacingAndGlyphs">69-79 cm</text>
<text font-size="22" transform="translate(115.2 776.5) rotate(-90)" textLength="86.8" lengthAdjust="spacingAndGlyphs">50-60 cm</text>
<text font-size="21" transform="translate(638.5 534.4) rotate(-90)" textLength="42.8" lengthAdjust="spacingAndGlyphs">5 cm</text>
<text font-size="20.5" transform="translate(389.5 45) rotate(18.5)" textLength="55" lengthAdjust="spacingAndGlyphs">66 cm</text>
<text font-size="20.5" transform="translate(399.7 269.8) rotate(-12.5)" textLength="57" lengthAdjust="spacingAndGlyphs">55 cm</text>
<text font-size="20.5" transform="translate(349 339.6) rotate(-10.5)" textLength="44.5" lengthAdjust="spacingAndGlyphs">4 cm</text>
<text font-size="20.5" transform="translate(432.4 526.4) rotate(18.8)" textLength="56.5" lengthAdjust="spacingAndGlyphs">45 cm</text>
<text font-size="20.5" transform="translate(706.4 612.3) rotate(-15)" textLength="56" lengthAdjust="spacingAndGlyphs">45 cm</text>
<text font-size="20.5" transform="translate(258.5 750.2) rotate(-16.8)" textLength="57.5" lengthAdjust="spacingAndGlyphs">38 cm</text>
</g>
</svg>
</body></html>
